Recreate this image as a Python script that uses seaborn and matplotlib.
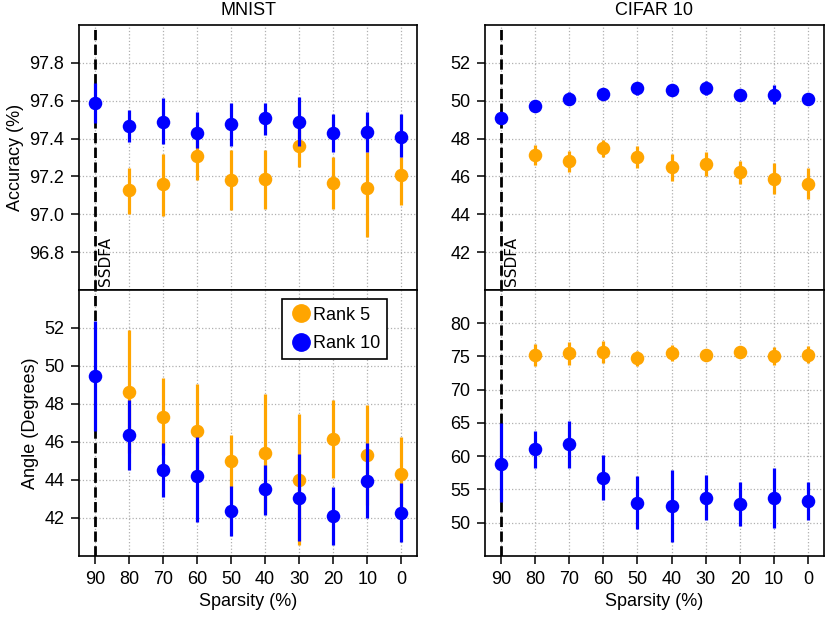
import numpy as np
import seaborn as sns
import matplotlib.pyplot as plt
from matplotlib.lines import Line2D

sns.set_style("ticks", {"axes.grid": True, "grid.linestyle": ":", "grid.color": "#b0b0b0",
                        "axes.edgecolor": "black", "xtick.direction": "out", "ytick.direction": "out",
                        "text.color": "black", "axes.labelcolor": "black",
                        "xtick.color": "black", "ytick.color": "black"})
plt.rcParams["font.family"] = ["Liberation Sans", "DejaVu Sans"]

nan = np.nan
sparsity = [90, 80, 70, 60, 50, 40, 30, 20, 10, 0]
series = ["Rank 5", "Rank 10"]
colors = {"Rank 5": "orange", "Rank 10": "blue"}

# MNIST accuracy
mnist_acc_r5 = [nan, 97.13, 97.16, 97.31, 97.18, 97.185, 97.36, 97.165, 97.14, 97.21]
mnist_acc_r5_lo = [nan, 97.00, 96.99, 97.18, 97.02, 97.03, 97.25, 97.03, 96.88, 97.05]
mnist_acc_r5_hi = [nan, 97.245, 97.32, 97.44, 97.34, 97.34, 97.47, 97.30, 97.33, 97.30]
mnist_acc_r10 = [97.59, 97.466, 97.49, 97.43, 97.475, 97.51, 97.487, 97.43, 97.435, 97.41]
mnist_acc_r10_lo = [97.48, 97.38, 97.37, 97.35, 97.36, 97.42, 97.36, 97.33, 97.33, 97.30]
mnist_acc_r10_hi = [97.695, 97.55, 97.615, 97.54, 97.59, 97.59, 97.62, 97.53, 97.54, 97.53]

# MNIST angle
mnist_ang_r5 = [nan, 48.62, 47.33, 46.58, 45.0, 45.4, 43.99, 46.14, 45.31, 44.3]
mnist_ang_r5_lo = [nan, 45.4, 45.3, 44.1, 43.65, 42.25, 40.56, 44.08, 42.7, 42.3]
mnist_ang_r5_hi = [nan, 51.88, 49.36, 49.06, 46.36, 48.51, 47.46, 48.2, 47.95, 46.28]
mnist_ang_r10 = [49.45, 46.35, 44.52, 44.22, 42.35, 43.5, 43.07, 42.12, 43.95, 42.28]
mnist_ang_r10_lo = [46.6, 44.5, 43.1, 41.8, 41.03, 42.18, 40.78, 40.6, 42.0, 40.73]
mnist_ang_r10_hi = [52.35, 48.2, 45.93, 46.27, 43.67, 44.8, 45.36, 43.64, 45.93, 43.85]

# CIFAR 10 accuracy
cifar_acc_r5 = [nan, 47.11, 46.8, 47.49, 47.03, 46.48, 46.67, 46.23, 45.88, 45.62]
cifar_acc_r5_lo = [nan, 46.58, 46.25, 47.05, 46.43, 45.78, 46.0, 45.6, 45.05, 44.8]
cifar_acc_r5_hi = [nan, 47.65, 47.35, 47.95, 47.6, 47.2, 47.3, 46.83, 46.7, 46.45]
cifar_acc_r10 = [49.09, 49.74, 50.11, 50.34, 50.66, 50.59, 50.66, 50.32, 50.32, 50.11]
cifar_acc_r10_lo = [48.75, 49.55, 49.8, 50.05, 50.3, 50.35, 50.3, 50.15, 49.85, 49.95]
cifar_acc_r10_hi = [49.4, 49.95, 50.45, 50.65, 51.0, 50.85, 51.05, 50.5, 50.85, 50.3]

# CIFAR 10 angle
cifar_ang_r5 = [nan, 75.26, 75.46, 75.71, 74.7, 75.56, 75.21, 75.71, 75.06, 75.26]
cifar_ang_r5_lo = [nan, 73.55, 73.75, 74.0, 73.5, 74.35, 74.6, 75.2, 73.65, 73.95]
cifar_ang_r5_hi = [nan, 76.95, 77.15, 77.4, 75.9, 76.75, 75.8, 76.2, 76.45, 76.55]
cifar_ang_r10 = [58.82, 61.09, 61.8, 56.8, 53.02, 52.52, 53.78, 52.77, 53.73, 53.27]
cifar_ang_r10_lo = [53.1, 58.3, 58.27, 53.47, 49.09, 47.07, 50.45, 49.44, 49.19, 50.45]
cifar_ang_r10_hi = [64.97, 63.86, 65.3, 60.18, 57.05, 58.0, 57.16, 56.15, 58.27, 56.1]

fig = plt.figure(figsize=(8.29, 6.17), dpi=100)
ax_tl = fig.add_axes([0.0953, 0.530, 0.408, 0.4295])
ax_bl = fig.add_axes([0.0953, 0.0989, 0.408, 0.4311])
ax_tr = fig.add_axes([0.585, 0.530, 0.409, 0.4295])
ax_br = fig.add_axes([0.585, 0.0989, 0.409, 0.4311])

xpos = np.arange(len(sparsity))


def draw(ax, data):
    for k, name in enumerate(series):
        mean, lo, hi = data[name]
        ax.vlines(xpos, lo, hi, color=colors[name], lw=2.3, zorder=3 + 2 * k)
        sns.scatterplot(x=xpos, y=mean, color=colors[name], s=95, linewidth=0,
                        ax=ax, zorder=4 + 2 * k, legend=False)
    ax.axvline(0, color="black", ls="--", lw=2, zorder=2)
    ax.set_xlim(-0.47, 9.47)
    ax.set_xticks(xpos)
    ax.set_xticklabels([str(s) for s in sparsity])
    ax.grid(True, ls=":", color="#b0b0b0", lw=0.9)
    ax.tick_params(labelsize=13, length=6, width=1.1, pad=4.5, colors="black")
    for sp in ax.spines.values():
        sp.set_linewidth(1.2)
        sp.set_color("black")


draw(ax_tl, {"Rank 5": (mnist_acc_r5, mnist_acc_r5_lo, mnist_acc_r5_hi),
             "Rank 10": (mnist_acc_r10, mnist_acc_r10_lo, mnist_acc_r10_hi)})
draw(ax_bl, {"Rank 5": (mnist_ang_r5, mnist_ang_r5_lo, mnist_ang_r5_hi),
             "Rank 10": (mnist_ang_r10, mnist_ang_r10_lo, mnist_ang_r10_hi)})
draw(ax_tr, {"Rank 5": (cifar_acc_r5, cifar_acc_r5_lo, cifar_acc_r5_hi),
             "Rank 10": (cifar_acc_r10, cifar_acc_r10_lo, cifar_acc_r10_hi)})
draw(ax_br, {"Rank 5": (cifar_ang_r5, cifar_ang_r5_lo, cifar_ang_r5_hi),
             "Rank 10": (cifar_ang_r10, cifar_ang_r10_lo, cifar_ang_r10_hi)})

ax_tl.set_ylim(96.6, 98.0)
ax_tl.set_yticks([96.8, 97.0, 97.2, 97.4, 97.6, 97.8])
ax_tl.set_yticklabels(["96.8", "97.0", "97.2", "97.4", "97.6", "97.8"])
ax_bl.set_ylim(40, 54)
ax_bl.set_yticks([42, 44, 46, 48, 50, 52])
ax_tr.set_ylim(40, 54)
ax_tr.set_yticks([42, 44, 46, 48, 50, 52])
ax_br.set_ylim(45, 85)
ax_br.set_yticks([50, 55, 60, 65, 70, 75, 80])

for ax in (ax_tl, ax_tr):
    ax.tick_params(axis="x", labelbottom=False, length=0)
    ax.text(0.1, 0.015, "SSDFA", rotation=90, fontsize=11, ha="left", va="bottom",
            family=["DejaVu Sans"], transform=ax.get_xaxis_transform())

ax_tl.set_title("MNIST", fontsize=13, pad=7)
ax_tr.set_title("CIFAR 10", fontsize=13, pad=7)
ax_tl.set_ylabel("Accuracy (%)", fontsize=13)
ax_bl.set_ylabel("Angle (Degrees)", fontsize=13)
ax_bl.set_xlabel("Sparsity (%)", fontsize=13)
ax_br.set_xlabel("Sparsity (%)", fontsize=13)

handles = [Line2D([], [], marker="o", ls="", color=colors[n], markersize=12.5, label=n) for n in series]
leg = ax_bl.legend(handles=handles, loc="upper left", bbox_to_anchor=(0.6, 0.965), fontsize=13,
                   fancybox=False, framealpha=1, edgecolor="black", handletextpad=0.0,
                   borderpad=0.4, labelspacing=0.65, handlelength=1.3, borderaxespad=0)
leg.get_frame().set_linewidth(1.2)

fig.savefig("out.png", dpi=100)
